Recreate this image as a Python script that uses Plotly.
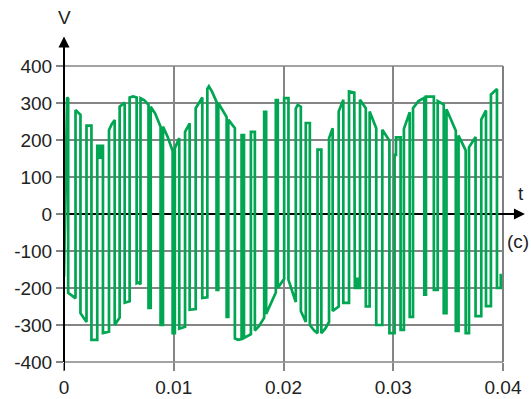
import plotly.graph_objects as go

# Waveform vertices (time in ms, voltage in V)
t_ms = [
    0.0, 0.28, 0.38, 0.38, 0.7, 1.05, 1.05, 1.5, 1.5, 1.8, 2.05, 2.05, 2.5, 2.5, 3.03,
    3.03, 3.25, 3.25, 3.35, 3.35, 3.55, 3.55, 4.1, 4.1, 4.35, 4.62, 4.62, 5.07, 5.07, 5.53,
    5.53, 5.98, 5.98, 6.3, 6.62, 6.62, 6.8, 6.97, 6.97, 7.3, 7.7, 7.7, 7.9, 7.9, 8.3,
    8.8, 8.8, 9.02, 9.02, 9.45, 9.9, 9.9, 10.1, 10.1, 10.5, 10.5, 11.03, 11.03, 11.45, 11.45,
    12.0, 12.0, 12.6, 12.6, 13.06, 13.06, 13.2, 13.5, 13.9, 13.9, 14.06, 14.06, 14.82, 14.82, 14.97,
    14.97, 15.25, 15.57, 15.57, 15.85, 16.18, 16.18, 16.4, 16.4, 17.03, 17.03, 17.39, 17.39, 17.8, 18.24,
    18.24, 18.42, 18.42, 18.9, 19.3, 19.3, 19.48, 19.48, 20.06, 20.06, 20.45, 20.45, 20.8, 21.12, 21.12,
    21.3, 21.58, 21.58, 22.03, 22.03, 22.4, 22.4, 22.8, 23.1, 23.1, 23.45, 23.45, 23.8, 24.15, 24.15,
    24.48, 24.48, 25.03, 25.03, 25.45, 25.45, 25.97, 25.97, 26.45, 26.5, 26.7, 26.7, 26.78, 26.78, 26.97,
    26.97, 27.5, 27.5, 27.85, 27.85, 28.45, 28.45, 29.0, 29.0, 29.65, 29.65, 30.12, 30.12, 30.25, 30.25,
    30.67, 30.67, 30.97, 30.97, 31.5, 31.5, 31.8, 31.8, 32.3, 32.83, 32.83, 32.98, 32.98, 33.7, 33.7,
    34.05, 34.05, 34.6, 34.6, 34.85, 34.85, 35.1, 35.7, 35.7, 35.95, 35.95, 36.6, 36.6, 36.9, 36.9,
    37.5, 37.5, 38.02, 38.02, 38.45, 38.45, 38.9, 38.9, 39.45, 39.45, 39.8, 39.8, 39.9,
]
v_volts = [
    -170, 315, 312, -213, -220, -228, 281, 268, -268, -282, -292, 239, 239, -340, -340,
    184, 184, 152, 152, 184, 184, -322, -318, 227, 243, 254, -300, -280, 290, 301,
    -240, -236, 315, 318, 315, -187, -185, -190, 313, 308, 295, -254, -254, 290, 272,
    236, -300, -300, 236, 208, 170, -322, -322, 178, 205, -310, -305, 222, 245, -259,
    -257, 286, 315, -227, -225, 338, 345, 330, 303, -205, -205, 300, 262, -278, -278,
    255, 243, 232, -336, -340, -338, 213, 213, -335, -325, 222, 222, -315, -302, -280,
    276, 276, -270, -240, -212, 308, 308, -200, -175, 313, 313, -178, -210, -238, 285,
    295, 290, -262, -292, 246, 246, -300, -315, -322, 174, 174, -322, -310, -292, 205,
    232, -262, -250, 277, 309, -240, -240, 331, 328, -200, -200, -175, -175, -200, -200,
    309, 286, -250, -250, 277, 232, -300, -300, 228, 198, -322, -322, 160, 160, 207,
    207, -313, -313, 230, 275, -278, -278, 286, 305, 314, -218, -218, 317, 317, -205,
    -205, 305, 296, -268, -268, 283, 265, 225, -316, -316, 212, 172, -322, -322, 180,
    208, -276, -276, 255, 280, -249, -249, 323, 338, -200, -200, -165, -165,
]

x_ticks = [0, 0.01, 0.02, 0.03, 0.04]
x_labels = ["0", "0.01", "0.02", "0.03", "0.04"]
y_ticks = [-400, -300, -200, -100, 0, 100, 200, 300, 400]
y_labels = ["-400", "-300", "-200", "-100", "0", "100", "200", "300", "400"]

t_s = [t / 1000.0 for t in t_ms]

GREEN = "#00A651"
GRID = "#858585"
FONT = dict(family="Liberation Sans, Arial, sans-serif", size=19, color="#222222")

fig = go.Figure()
fig.add_trace(go.Scatter(x=t_s, y=v_volts, mode="lines",
                         line=dict(color=GREEN, width=2.7), hoverinfo="skip"))

fig.update_layout(
    width=531, height=399,
    margin=dict(l=64, r=28, t=66, b=37, autoexpand=False),
    paper_bgcolor="white", plot_bgcolor="white",
    showlegend=False,
    xaxis=dict(range=[0, 0.04], tickmode="array", tickvals=x_ticks, ticktext=x_labels,
               showgrid=True, gridcolor=GRID, gridwidth=1.5,
               zeroline=True, zerolinecolor="black", zerolinewidth=2,
               ticks="outside", ticklen=8, tickwidth=1.5, tickcolor=GRID,
               tickfont=FONT, showline=False, fixedrange=True, automargin=False),
    yaxis=dict(range=[-400, 400], tickmode="array", tickvals=y_ticks, ticktext=y_labels,
               showgrid=True, gridcolor=GRID, gridwidth=1.5,
               zeroline=True, zerolinecolor="black", zerolinewidth=2,
               ticks="outside", ticklen=7, tickwidth=1.5, tickcolor=GRID,
               tickfont=FONT, showline=False, fixedrange=True, automargin=False),
    shapes=[
        dict(type="line", xref="x", yref="paper", x0=0, x1=0, y0=-0.028, y1=1.0,
             line=dict(color="black", width=2), layer="above"),
        dict(type="line", xref="paper", yref="paper", x0=1, x1=1, y0=0, y1=1,
             line=dict(color="#555555", width=1.5), layer="below"),
        dict(type="line", xref="paper", yref="paper", x0=0, x1=1, y0=1, y1=1,
             line=dict(color=GRID, width=1.5), layer="below"),
        dict(type="line", xref="paper", yref="paper", x0=0, x1=1, y0=0, y1=0,
             line=dict(color=GRID, width=1.5), layer="below"),
    ],
    annotations=[
        dict(xref="x", yref="paper", x=0, y=1.10, ax=0, ay=32, axref="pixel", ayref="pixel",
             text="", showarrow=True, arrowhead=2, arrowsize=1.1, arrowwidth=2, arrowcolor="black"),
        dict(xref="paper", yref="y", x=1.05, y=0, ax=-26, ay=0, axref="pixel", ayref="pixel",
             text="", showarrow=True, arrowhead=2, arrowsize=1.1, arrowwidth=2, arrowcolor="black"),
        dict(xref="x", yref="paper", x=0, y=1.165, text="V", showarrow=False,
             font=FONT, xanchor="center", yanchor="middle"),
        dict(xref="paper", yref="y", x=1.03, y=55, text="t", showarrow=False,
             font=FONT, xanchor="left", yanchor="middle"),
        dict(xref="paper", yref="y", x=1.004, y=-75, text="(c)", showarrow=False,
             font=FONT, xanchor="left", yanchor="middle"),
    ],
)

# Remove the default page margin so the 531x399 figure fills the window exactly.
fig.write_html("out.html",
               config={"displayModeBar": False},
               post_script="document.body.style.margin='0px';document.body.style.overflow='hidden';")
